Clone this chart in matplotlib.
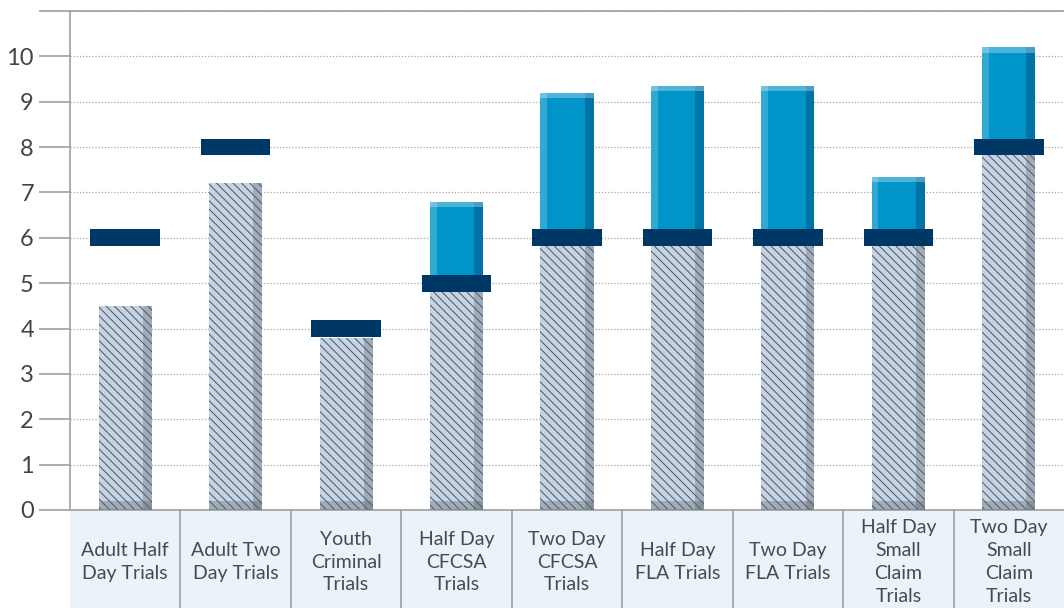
import matplotlib.pyplot as plt
from matplotlib.patches import Rectangle
import numpy as np

# Data
categories = ["Adult Half\nDay Trials", "Adult Two\nDay Trials", "Youth\nCriminal\nTrials",
              "Half Day\nCFCSA\nTrials", "Two Day\nCFCSA\nTrials", "Half Day\nFLA Trials",
              "Two Day\nFLA Trials", "Half Day\nSmall\nClaim\nTrials", "Two Day\nSmall\nClaim\nTrials"]
actual = [4.5, 7.2, 3.8, 6.8, 9.2, 9.35, 9.35, 7.35, 10.2]
target = [6, 8, 4, 5, 6, 6, 6, 6, 8]

plt.rcParams['font.family'] = ['Lato', 'DejaVu Sans']
plt.rcParams['hatch.linewidth'] = 0.7

fig = plt.figure(figsize=(10.64, 6.08), dpi=100)
ax = fig.add_axes([70 / 1064, 98 / 608, 994 / 1064, 499 / 608])

x = np.arange(len(categories))
actual = np.array(actual)
target = np.array(target)
gray_top = np.minimum(actual, target)
blue_h = np.clip(actual - target, 0, None)
w = 0.48

# gray hatched part
ax.bar(x, gray_top, width=w, color='#c6d3e2', edgecolor='#4a5560', linewidth=0,
       hatch='\\\\\\\\', zorder=2)
# side shading on gray bars
ax.bar(x + w / 2 - 0.04, gray_top, width=0.08, color='#5a6470', alpha=0.35, linewidth=0, zorder=3)
ax.bar(x, np.full(len(x), 0.2), width=w, color='#5a6470', alpha=0.35, linewidth=0, zorder=3)

# blue part above target
ax.bar(x, blue_h, bottom=target, width=w, color='#0094c9', linewidth=0, zorder=2)
ax.bar(x + w / 2 - 0.04, blue_h, bottom=target, width=0.08, color='#004e78', alpha=0.45,
       linewidth=0, zorder=3)
ax.bar(x - w / 2 + 0.03, blue_h, bottom=target, width=0.06, color='#ffffff', alpha=0.2,
       linewidth=0, zorder=3)
ax.bar(x, np.where(blue_h > 0, 0.12, 0), bottom=actual - 0.12, width=w, color='#ffffff',
       alpha=0.3, linewidth=0, zorder=3)

# target markers
ax.bar(x, np.full(len(x), 0.37), bottom=target - 0.185, width=0.63, color='#003865',
       linewidth=0, zorder=4)

ax.set_xlim(-0.5, len(x) - 0.5)
ax.set_ylim(0, 11)
ax.set_yticks(range(12))
ax.set_yticklabels([str(i) for i in range(11)] + [''], fontsize=17, color='#444444')
ax.tick_params(axis='y', length=22, width=1.2, color='#a0a0a0', pad=4)
ax.tick_params(axis='x', length=0, labelbottom=False)
ax.yaxis.grid(True, linestyle=(0, (1, 1.5)), color='#a8a8a8', linewidth=0.9, zorder=0)
ax.set_axisbelow(True)
for s in ['left', 'top', 'bottom']:
    ax.spines[s].set_color('#a0a0a0')
    ax.spines[s].set_linewidth(1.2)
ax.spines['right'].set_visible(False)

# category label strip
strip_h = 98 / 499
ax.add_patch(Rectangle((0, -strip_h), 1, strip_h, transform=ax.transAxes,
                       facecolor='#eaf2fa', edgecolor='none', clip_on=False, zorder=1))
for b in np.arange(0.5, len(x) - 0.5, 1.0):
    ax.plot([b, b], [0, -strip_h], transform=ax.get_xaxis_transform(), color='#a0a0a0',
            linewidth=1.2, clip_on=False)
for i, c in enumerate(categories):
    ax.text(i, -52 / 499, c, transform=ax.get_xaxis_transform(), ha='center', va='center',
            fontsize=14, color='#4a4a4a', linespacing=1.42)

plt.savefig("out.png", dpi=100)
